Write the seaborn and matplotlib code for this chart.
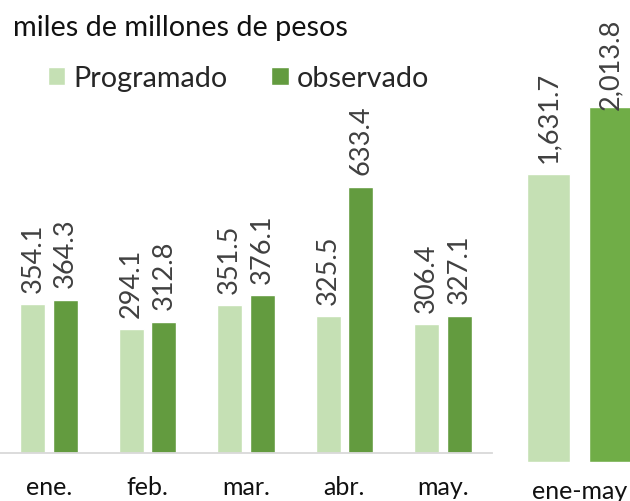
import matplotlib
matplotlib.use("Agg")
import matplotlib.pyplot as plt
import seaborn as sns
import pandas as pd

# datos mensuales (miles de millones de pesos)
meses = ["ene.", "feb.", "mar.", "abr.", "may."]
programado = [354.1, 294.1, 351.5, 325.5, 306.4]
observado = [364.3, 312.8, 376.1, 633.4, 327.1]

# acumulado
periodo = ["ene-may"]
total_programado = [1631.7]
total_observado = [2013.8]

series = ["Programado", "observado"]
verde_claro = "#C5E0B4"
verde_osc = "#639B3F"
verde_tot = "#70AD47"

sns.set_theme(style="white")
plt.rcParams["font.family"] = ["Lato", "DejaVu Sans"]

df = pd.DataFrame({
    "mes": meses * 2,
    "serie": [series[0]] * len(meses) + [series[1]] * len(meses),
    "valor": programado + observado,
})
df_tot = pd.DataFrame({
    "mes": periodo * 2,
    "serie": series,
    "valor": total_programado + total_observado,
})

W, H = 630, 502
fig = plt.figure(figsize=(W / 100, H / 100), dpi=100)
ax1 = fig.add_axes([0, (H - 454) / H, 492 / W, 454 / H])
ax2 = fig.add_axes([500 / W, (H - 463) / H, 159 / W, 463 / H])

sns.barplot(data=df, x="mes", y="valor", hue="serie", hue_order=series,
            palette=[verde_claro, verde_osc], saturation=1, width=0.66,
            gap=0.23, ax=ax1)
sns.barplot(data=df_tot, x="mes", y="valor", hue="serie", hue_order=series,
            palette=[verde_claro, verde_tot], saturation=1, width=0.78,
            gap=0.31, legend=False, ax=ax2)

ax1.set_ylim(0, 454 / 0.42)
ax2.set_ylim(0, 463 / 0.1762)
ax1.set_xlim(-0.5, 4.5)
ax2.set_xlim(-0.5, 0.5)

for c in ax1.containers:
    ax1.bar_label(c, fmt="%.1f", rotation=90, padding=9, fontsize=19.5,
                  color="#404040")
ax2.bar_label(ax2.containers[0], fmt="{:,.1f}", rotation=90, padding=9,
              fontsize=19.5, color="#404040")
ax2.bar_label(ax2.containers[1], fmt="{:,.1f}", rotation=90, padding=-1.5,
              fontsize=19.5, color="#404040")

for ax in (ax1, ax2):
    ax.set_xlabel("")
    ax.set_ylabel("")
    ax.set_yticks([])
    for s in ["top", "right", "left"]:
        ax.spines[s].set_visible(False)
    ax.tick_params(axis="x", length=0, labelsize=18, labelcolor="#111111")
ax1.spines["bottom"].set_color("#D9D9D9")
ax1.spines["bottom"].set_linewidth(1.3)
ax2.spines["bottom"].set_visible(False)
ax1.tick_params(axis="x", pad=16)
ax2.tick_params(axis="x", pad=12.5)

sns.move_legend(ax1, "center left", bbox_to_anchor=(48 / 492, (454 - 79) / 454),
                ncol=2, frameon=False, title=None, fontsize=20.7,
                borderpad=0, borderaxespad=0, handlelength=0.6,
                handleheight=0.6, handletextpad=0.3, columnspacing=1.5)

fig.text(13 / W, 1 - 36 / H, "miles de millones de pesos", fontsize=20.8,
         va="baseline", ha="left", color="#111111")

fig.savefig("out.png", dpi=100)
